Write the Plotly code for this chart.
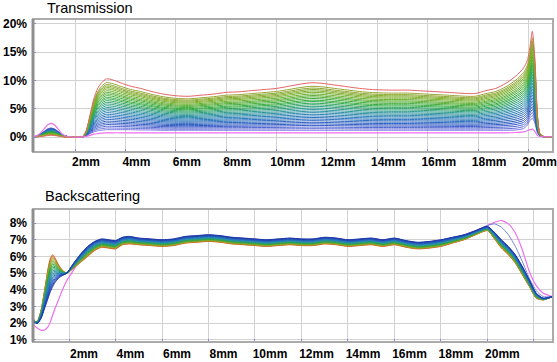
import plotly.graph_objects as go

# ---------------- Transmission (top) ----------------
T_X = [0.35, 0.55, 0.75, 0.9, 1.05, 1.2, 1.35, 1.5, 1.7, 2.0,
       2.3, 2.45, 2.6, 2.75, 2.9, 3.05, 3.25, 3.5, 3.8, 4.2,
       4.6, 5.0, 5.5, 6.0, 6.5, 7.0, 7.5, 8.0, 8.5, 9.0,
       9.5, 10.0, 10.5, 11.0, 11.4, 11.8, 12.3, 12.8, 13.3, 13.8,
       14.5, 15.2, 16.0, 16.8, 17.5, 17.9, 18.3, 18.7, 19.1, 19.5,
       19.8, 19.95, 20.05, 20.15, 20.25, 20.35, 20.45, 20.6, 20.97]
# highest (last, red) transmission curve
T_HIGH = [0.0, 0.05, 0.15, 0.25, 0.3, 0.25, 0.15, 0.05, 0.0, 0.0,
          0.05, 1.2, 4.0, 6.8, 8.6, 9.6, 10.3, 10.1, 9.6, 9.0,
          8.6, 8.1, 7.6, 7.3, 7.2, 7.4, 7.6, 7.9, 8.0, 8.2,
          8.4, 8.6, 9.0, 9.4, 9.6, 9.5, 9.2, 8.9, 8.6, 8.4,
          8.3, 8.3, 8.1, 7.9, 7.7, 7.7, 8.2, 8.6, 9.5, 10.8,
          12.2, 13.5, 15.8, 18.7, 14.0, 4.0, 0.6, 0.1, 0.05]
# lowest blue transmission curve
T_LOW = [0.0, 0.3, 0.9, 1.4, 1.6, 1.4, 0.9, 0.4, 0.1, 0.0,
         0.0, 0.2, 0.6, 0.9, 1.1, 1.2, 1.3, 1.3, 1.3, 1.3,
         1.25, 1.25, 1.2, 1.2, 1.2, 1.2, 1.2, 1.2, 1.2, 1.2,
         1.2, 1.2, 1.2, 1.2, 1.2, 1.2, 1.2, 1.2, 1.2, 1.2,
         1.2, 1.2, 1.2, 1.2, 1.2, 1.2, 1.2, 1.2, 1.2, 1.25,
         1.5, 2.1, 2.9, 3.3, 2.5, 0.8, 0.2, 0.05, 0.05]
# first (pink) transmission curve
T_PINK = [0.0, 0.4, 1.3, 2.1, 2.4, 2.1, 1.3, 0.5, 0.1, 0.0,
          0.0, 0.1, 0.3, 0.5, 0.6, 0.7, 0.72, 0.75, 0.75, 0.75,
          0.75, 0.75, 0.75, 0.75, 0.75, 0.75, 0.75, 0.75, 0.75, 0.75,
          0.75, 0.75, 0.75, 0.75, 0.75, 0.75, 0.75, 0.75, 0.75, 0.75,
          0.75, 0.75, 0.75, 0.75, 0.75, 0.75, 0.75, 0.75, 0.75, 0.8,
          0.9, 1.1, 1.3, 1.4, 1.0, 0.3, 0.1, 0.05, 0.05]
# level of each transmission curve read at 8 mm (%)
T_LEVELS = [1.2, 1.42, 1.65, 1.88, 2.1, 2.32, 2.55, 2.78, 3.0, 3.22,
            3.45, 3.68, 3.9, 4.12, 4.35, 4.58, 4.8, 5.02, 5.25, 5.45,
            5.68, 5.9, 6.1, 6.32, 6.55, 6.75, 6.95, 7.15, 7.4, 7.9]
T_REF_X = 8.0

# ---------------- Backscattering (bottom) ----------------
B_X = [0.45, 0.55, 0.65, 0.8, 0.95, 1.1, 1.2, 1.3, 1.4, 1.55,
       1.7, 1.9, 2.2, 2.5, 2.8, 3.1, 3.4, 3.7, 4.0, 4.3,
       4.6, 5.0, 5.5, 6.0, 6.5, 7.0, 7.5, 8.0, 8.5, 9.0,
       9.5, 10.0, 10.5, 11.0, 11.5, 12.0, 12.5, 13.0, 13.5, 14.0,
       14.5, 15.0, 15.5, 16.0, 16.5, 17.0, 17.5, 18.0, 18.5, 19.0,
       19.5, 20.0, 20.3, 20.6, 20.9, 21.2, 21.5, 21.8, 22.1, 22.4,
       22.8]
# upper (blue) edge of the backscattering band
B_HIGH = [2.15, 2.0, 2.0, 2.3, 2.9, 3.5, 3.9, 4.2, 4.45, 4.7,
          4.85, 5.0, 5.6, 6.15, 6.6, 6.9, 7.05, 7.0, 6.95, 7.15,
          7.2, 7.1, 7.05, 7.0, 7.05, 7.2, 7.25, 7.3, 7.25, 7.15,
          7.1, 7.05, 7.0, 7.05, 7.1, 7.05, 7.05, 7.15, 7.1, 7.0,
          7.05, 7.1, 7.0, 7.1, 6.95, 6.85, 6.9, 7.0, 7.15, 7.3,
          7.55, 7.8, 7.45, 7.0, 6.6, 6.1, 5.4, 4.6, 3.8, 3.5,
          3.6]
# lower (red) edge of the backscattering band
B_LOW = [2.3, 2.1, 2.15, 2.8, 4.0, 5.3, 5.9, 6.1, 5.9, 5.5,
         5.2, 5.0, 5.3, 5.65, 6.0, 6.35, 6.55, 6.5, 6.45, 6.7,
         6.75, 6.7, 6.65, 6.6, 6.65, 6.8, 6.85, 6.9, 6.85, 6.75,
         6.7, 6.65, 6.6, 6.65, 6.7, 6.65, 6.65, 6.75, 6.7, 6.6,
         6.65, 6.7, 6.6, 6.7, 6.55, 6.45, 6.5, 6.6, 6.8, 7.0,
         7.3, 7.55, 7.05, 6.5, 6.1, 5.6, 4.9, 4.2, 3.5, 3.4,
         3.6]
# first (pink) backscattering curve
B_PINK = [1.95, 1.8, 1.7, 1.58, 1.6, 1.8, 2.1, 2.5, 2.9, 3.4,
          3.95, 4.55, 5.2, 5.85, 6.45, 6.85, 7.0, 6.98, 6.92, 7.1,
          7.15, 7.08, 7.02, 6.98, 7.02, 7.15, 7.2, 7.25, 7.2, 7.12,
          7.08, 7.02, 6.98, 7.02, 7.08, 7.02, 7.02, 7.12, 7.08, 6.98,
          7.02, 7.08, 6.98, 7.08, 6.92, 6.82, 6.88, 6.98, 7.12, 7.3,
          7.55, 7.85, 8.05, 8.15, 7.95, 7.4, 6.4, 5.1, 4.25, 3.8,
          3.6]
# second (lavender) backscattering curve, right end
B_LAV_X = [19.5, 20.0, 20.3, 20.6, 20.9, 21.2, 21.5, 21.8, 22.1, 22.4, 22.8]
B_LAV = [7.55, 7.85, 7.95, 7.75, 7.3, 6.6, 5.7, 4.7, 3.95, 3.6, 3.6]
# level of each backscattering curve read at 8 mm (%)
B_LEVELS = [7.3, 7.28, 7.26, 7.24, 7.22, 7.2, 7.18, 7.16, 7.14, 7.12,
            7.1, 7.08, 7.06, 7.04, 7.02, 7.0, 6.98, 6.96, 6.94, 6.92, 6.9]
B_REF_X = 8.0

X_TICKS = [2, 4, 6, 8, 10, 12, 14, 16, 18, 20]
X_TICKS_B = [2, 4, 6, 8, 10, 12, 14, 16, 18, 20, 22]
T_YTICKS = [0, 5, 10, 15, 20]
B_YTICKS = [1, 2, 3, 4, 5, 6, 7, 8]


def mix(stops, f):
    f = max(0.0, min(1.0, f))
    for (f0, c0), (f1, c1) in zip(stops, stops[1:]):
        if f <= f1:
            t = 0 if f1 == f0 else (f - f0) / (f1 - f0)
            c = [round(a + (b - a) * t) for a, b in zip(c0, c1)]
            return "rgb(%d,%d,%d)" % tuple(c)
    return "rgb(%d,%d,%d)" % stops[-1][1]


T_STOPS = [(0.0, (120, 120, 225)), (0.12, (45, 85, 195)), (0.3, (40, 120, 185)),
           (0.45, (40, 150, 150)), (0.62, (45, 170, 60)), (0.8, (120, 175, 40)),
           (0.99, (165, 160, 55)), (1.0, (228, 100, 100))]
B_STOPS = [(0.0, (30, 60, 170)), (0.25, (40, 110, 195)), (0.45, (40, 150, 160)),
           (0.65, (45, 165, 60)), (0.85, (150, 170, 40)), (1.0, (220, 90, 30))]

fig = go.Figure()

ti = T_X.index(T_REF_X)
for lev in T_LEVELS:
    f = (lev - T_LOW[ti]) / (T_HIGH[ti] - T_LOW[ti])
    ys = [lo + f * (hi - lo) for lo, hi in zip(T_LOW, T_HIGH)]
    fig.add_trace(go.Scatter(x=T_X, y=ys, mode="lines", xaxis="x", yaxis="y",
                             line=dict(color=mix(T_STOPS, f), width=1, shape="spline", smoothing=0.6),
                             hoverinfo="skip"))
fig.add_trace(go.Scatter(x=T_X, y=T_PINK, mode="lines", xaxis="x", yaxis="y",
                         line=dict(color="rgb(240,110,240)", width=1.2, shape="spline", smoothing=0.6),
                         hoverinfo="skip"))

bi = B_X.index(B_REF_X)
fig.add_trace(go.Scatter(x=B_X, y=B_PINK, mode="lines", xaxis="x2", yaxis="y2",
                         line=dict(color="rgb(240,110,240)", width=1.2, shape="spline", smoothing=0.6),
                         hoverinfo="skip"))
fig.add_trace(go.Scatter(x=B_LAV_X, y=B_LAV, mode="lines", xaxis="x2", yaxis="y2",
                         line=dict(color="rgb(120,130,220)", width=1, shape="spline", smoothing=0.6),
                         hoverinfo="skip"))
for lev in reversed(B_LEVELS):
    f = (B_HIGH[bi] - lev) / (B_HIGH[bi] - B_LOW[bi])
    ys = [hi + f * (lo - hi) for lo, hi in zip(B_LOW, B_HIGH)]
    fig.add_trace(go.Scatter(x=B_X, y=ys, mode="lines", xaxis="x2", yaxis="y2",
                             line=dict(color=mix(B_STOPS, f), width=1, shape="spline", smoothing=0.6),
                             hoverinfo="skip"))

W, H = 557, 362
XD = [33 / W, 553 / W]
tickfont = dict(family="Liberation Sans, Arial, sans-serif", size=12, color="black", weight="bold")
common_x = dict(showgrid=True, gridcolor="#d2d2d2", gridwidth=1, zeroline=False, ticks="inside",
                ticklen=3, tickcolor="#7f8ce0", tickfont=tickfont,
                ticklabeloverflow="allow", automargin=False, showline=False, fixedrange=True)
common_y = dict(showgrid=True, gridcolor="#d2d2d2", gridwidth=1, zeroline=False, ticks="inside",
                ticklen=3, tickcolor="#7f8ce0", tickfont=tickfont, ticklabelstandoff=5,
                automargin=False, showline=False, fixedrange=True)

fig.update_layout(
    width=W, height=H, margin=dict(l=0, r=0, t=0, b=0),
    paper_bgcolor="white", plot_bgcolor="white", showlegend=False, template="none",
    xaxis=dict(domain=XD, range=[0.333, 20.97], anchor="y", tickvals=X_TICKS,
               ticktext=["%dmm" % v for v in X_TICKS], ticklabelstandoff=1, ticklabelshift=11,
               **common_x),
    yaxis=dict(domain=[1 - 152 / H, 1 - 19 / H], range=[-2.65, 20.88], anchor="x",
               tickvals=T_YTICKS, ticktext=["%d%%" % v for v in T_YTICKS], **common_y),
    xaxis2=dict(domain=XD, range=[0.45, 22.82], anchor="y2", tickvals=X_TICKS_B,
                ticktext=["%dmm" % v if v <= 20 else "" for v in X_TICKS_B], ticklabelstandoff=3,
                ticklabelshift=15, **common_x),
    yaxis2=dict(domain=[1 - 342 / H, 1 - 209 / H], range=[0.88, 8.84], anchor="x2",
                tickvals=B_YTICKS, ticktext=["%d%%" % v for v in B_YTICKS], **common_y),
    annotations=[
        dict(text="Transmission", x=45 / W, y=1 - 8 / H, xref="paper", yref="paper",
             xanchor="left", yanchor="middle", showarrow=False,
             font=dict(family="Liberation Sans, Arial, sans-serif", size=14.5, color="black")),
        dict(text="Backscattering", x=43 / W, y=1 - 196 / H, xref="paper", yref="paper",
             xanchor="left", yanchor="middle", showarrow=False,
             font=dict(family="Liberation Sans, Arial, sans-serif", size=14.5, color="black")),
    ],
)

shapes = []
for xr, yr in (("x domain", "y domain"), ("x2 domain", "y2 domain")):
    shapes.append(dict(type="rect", xref=xr, yref=yr, x0=0, x1=1, y0=0, y1=1,
                       line=dict(color="#ababab", width=2), layer="above"))
    shapes.append(dict(type="line", xref=xr, yref=yr, x0=0, x1=0, y0=0, y1=1,
                       line=dict(color="#8e8e8e", width=3), layer="above"))
fig.update_layout(shapes=shapes)

fig.write_html("out.html", config={"displayModeBar": False},
               post_script="document.body.style.margin='0';document.body.style.overflow='hidden';")
